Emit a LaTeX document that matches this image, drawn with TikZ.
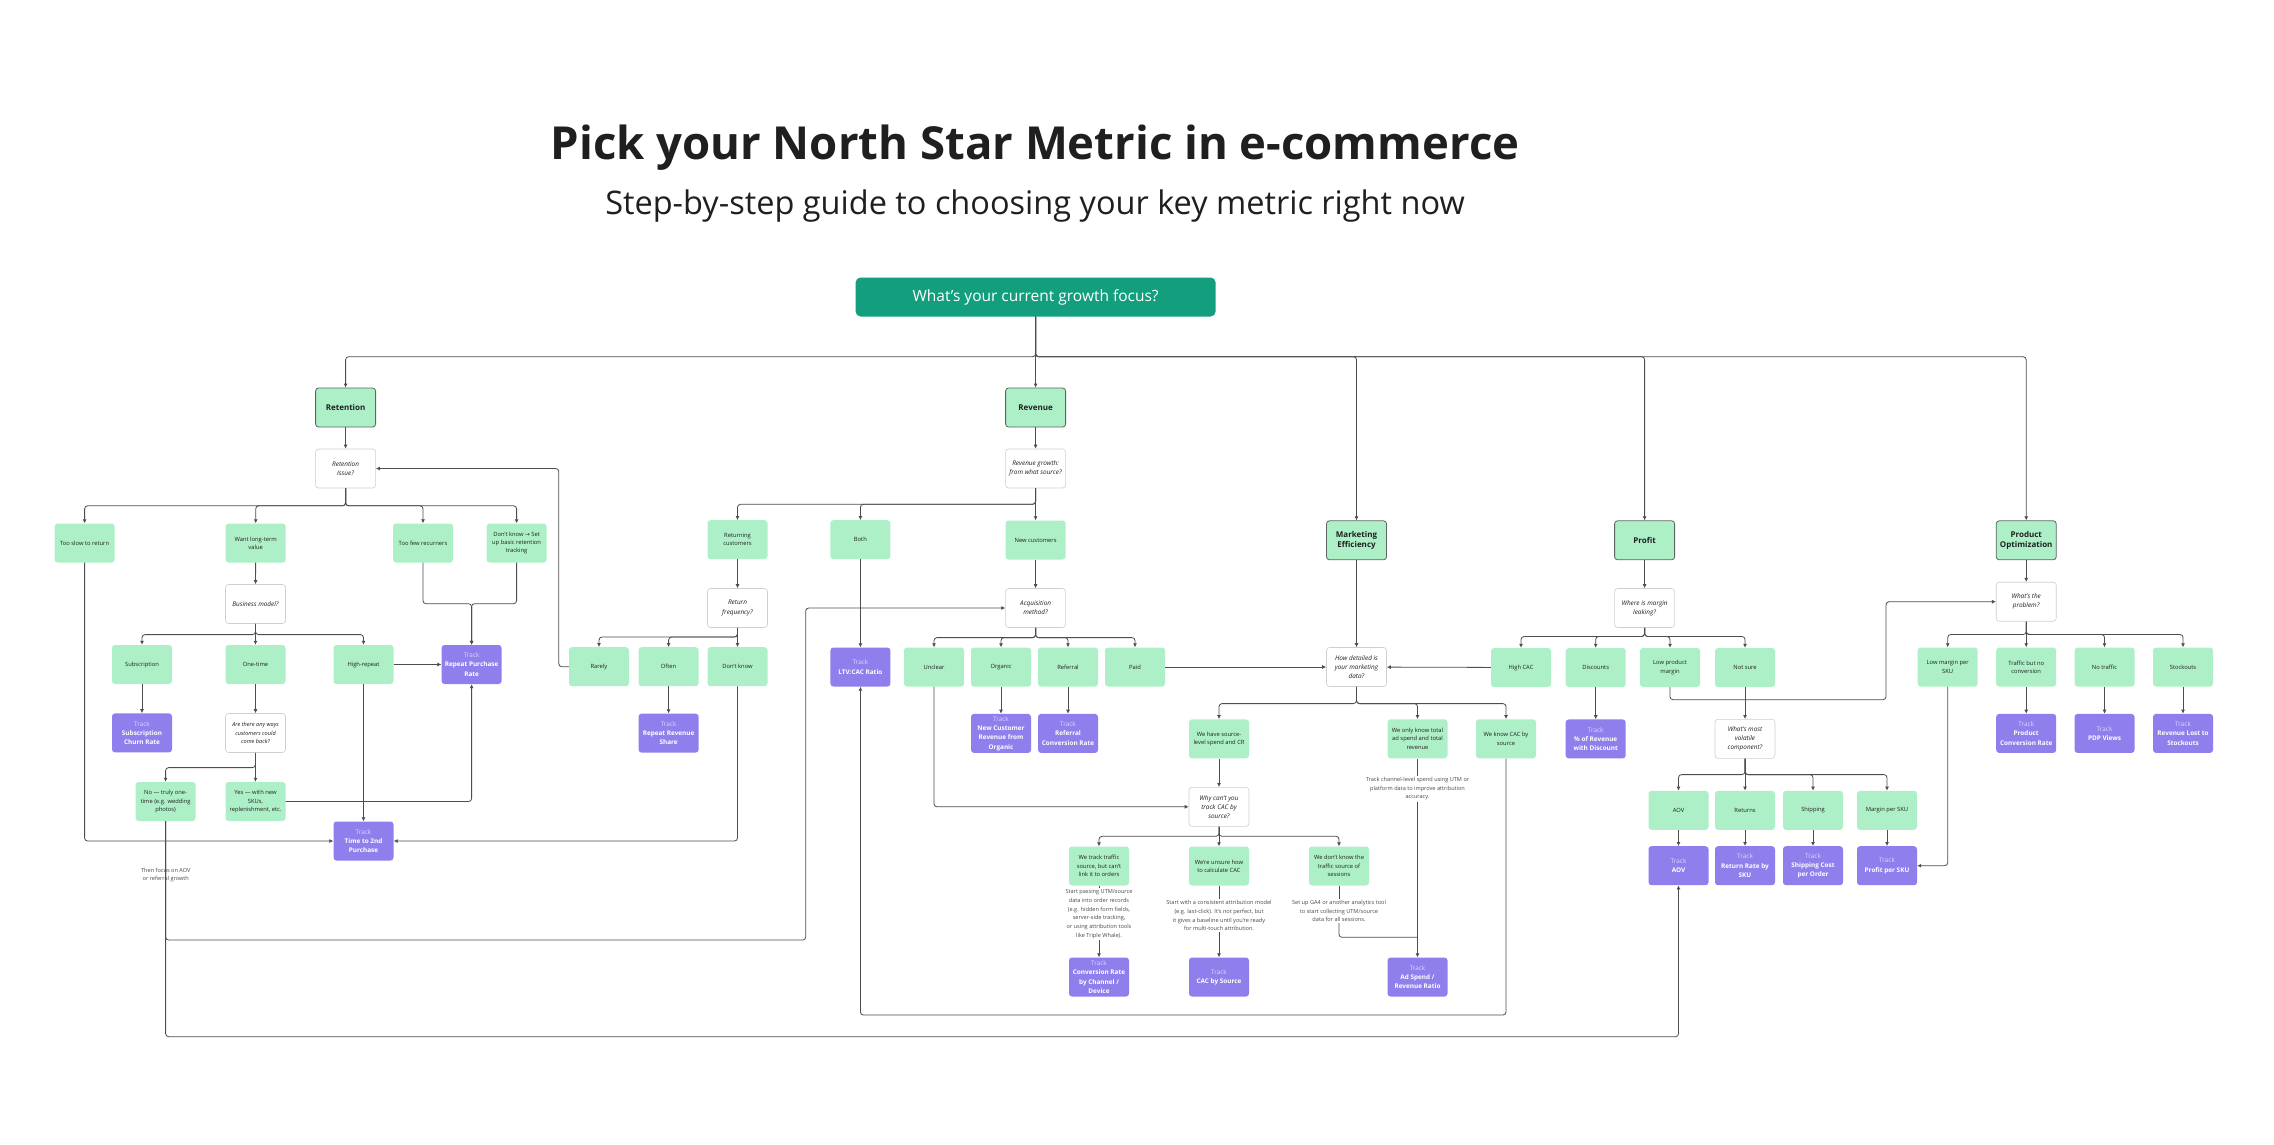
\documentclass[tikz,border=0pt]{standalone}
\usepackage{fontspec}
\setmainfont{Open Sans}
\newfontfamily\arrowfont{DejaVu Sans}
\usepackage{xcolor}
\usepackage{tikz}
\usetikzlibrary{arrows.meta,positioning,calc}
\definecolor{focusgreen}{HTML}{139E7D}
\definecolor{mint}{HTML}{ADF0C7}
\definecolor{lilac}{HTML}{8F7FEC}
\definecolor{topicline}{HTML}{5C6660}
\definecolor{askline}{HTML}{CFCFCF}
\definecolor{wire}{HTML}{4D4D4D}
\definecolor{ink}{HTML}{1F1F1F}
\definecolor{hintgray}{HTML}{4A4A4A}
\definecolor{trackfaint}{HTML}{DCD6FF}
\newcommand{\trk}{{\mdseries\color{trackfaint}Track}\\}

\begin{document}
\begin{tikzpicture}[x=1pt,y=-1pt,
    node distance=27pt,
    topic/.style={draw=topicline,fill=mint,line width=0.8pt,rounded corners=3pt,align=center,minimum width=60pt,minimum height=39pt,inner sep=1pt,text=ink,font=\bfseries\fontsize{8}{10.6}\selectfont},
    choice/.style={fill=mint,rounded corners=3pt,align=center,minimum width=60pt,minimum height=39pt,inner sep=1pt,text=ink,font=\fontsize{5.8}{8.3}\selectfont},
    ask/.style={draw=askline,fill=white,line width=0.6pt,rounded corners=3pt,align=center,minimum width=60pt,minimum height=39pt,inner sep=1pt,text=ink,font=\itshape\fontsize{6.4}{9.2}\selectfont},
    metric/.style={fill=lilac,rounded corners=3pt,align=center,minimum width=60pt,minimum height=39pt,inner sep=1pt,text=white,font=\bfseries\fontsize{6.4}{9.3}\selectfont},
    hint/.style={align=center,inner sep=1pt,text=hintgray,font=\fontsize{5.6}{8.8}\selectfont},
    arr/.style={-{Latex[length=4pt,width=4pt]},line width=0.8pt,draw=wire,rounded corners=3pt},
    link/.style={line width=0.8pt,draw=wire,rounded corners=3pt}
]
    \useasboundingbox[fill=white] (0,0) rectangle (2274,1144);

    % heading
    \node[anchor=base,text=ink,font=\bfseries\fontsize{45.5}{52}\selectfont] (title) at (1035,159.5) {Pick your North Star Metric in e-commerce};
    \node[anchor=base,text=ink,font=\fontsize{32.5}{38}\selectfont] (subtitle) at (1035,214) {Step-by-step guide to choosing your key metric right now};
    \node[fill=focusgreen,rounded corners=5pt,minimum width=360pt,minimum height=39pt,text=white,font=\fontsize{15.5}{18}\selectfont] (focus) at (1035.6,297) {What’s your current growth focus?};

    % growth areas
    \node[topic] (retention) at (345.6,407.5) {Retention};
    \node[topic] (revenue) at (1035.6,407.5) {Revenue};
    \node[topic] (mkt) at (1356.5,540.3) {Marketing\\Efficiency};
    \node[topic] (profit) at (1644.6,540.3) {Profit};
    \node[topic] (product) at (2026.2,540.3) {Product\\Optimization};

    % retention branch
    \node[ask] (retq) at (345.6,468.5) {Retention\\Issue?};
    \node[choice] (slow) at (84.6,543) {Too slow to return};
    \node[choice] (longterm) at (255.7,543) {Want long-term\\value};
    \node[choice] (fewrec) at (423,543) {Too few recurners};
    \node[choice] (dunno) at (516.6,543) {Don’t know {\arrowfont→} Set\\up basic retention\\tracking};
    \node[ask] (bizq) at (255.5,604) {Business model?};
    \node[choice] (subscr) at (142,664.5) {Subscription};
    \node[choice] (onetime) at (255.5,664.5) {One-time};
    \node[choice] (highrep) at (363.5,664.5) {High-repeat};
    \node[metric] (trkrepeat) at (471.6,664.5) {\trk Repeat Purchase\\Rate};
    \node[metric,below=29pt of subscr] (trkchurn) {\trk Subscription\\Churn Rate};
    \node[ask,font=\itshape\fontsize{5.6}{8.3}\selectfont] (comebackq) at (255.5,733) {Are there any ways\\customers could\\come back?};
    \node[choice] (nope) at (165.6,801.5) {No — truly one-\\time (e.g. wedding\\photos)};
    \node[choice] (yes) at (255.5,801.5) {Yes — with new\\SKUs,\\replenishment, etc.};
    \node[metric] (trksecond) at (363.5,841) {\trk Time to 2nd\\Purchase};
    \node[hint] (aovnote) at (165.8,875) {Then focus on AOV\\or referral growth};

    % revenue branch
    \node[ask] (revq) at (1035.6,468.5) {Revenue growth:\\from what source?};
    \node[choice] (returning) at (737.5,539.7) {Returning\\customers};
    \node[choice] (both) at (860.4,539.7) {Both};
    \node[choice] (newcust) at (1035.6,540) {New customers};
    \node[ask] (freqq) at (737.5,608) {Return\\frequency?};
    \node[choice] (rarely) at (599,666.7) {Rarely};
    \node[choice] (often) at (668.6,666.7) {Often};
    \node[choice] (dontknow) at (737.5,666.7) {Don’t know};
    \node[metric] (trkltv) at (860.4,667) {\trk LTV:CAC Ratio};
    \node[metric,below=of often] (trkrevshare) {\trk Repeat Revenue\\Share};
    \node[ask] (acqq) at (1035.6,608) {Acquisition\\method?};
    \node[choice] (unclear) at (934,667) {Unclear};
    \node[choice] (organic) at (1001,667) {Organic};
    \node[choice] (referral) at (1068,667) {Referral};
    \node[choice] (paid) at (1135,667) {Paid};
    \node[metric,below=of organic] (trkorganic) {\trk New Customer\\Revenue from\\Organic};
    \node[metric,below=of referral] (trkreferral) {\trk Referral\\Conversion Rate};

    % marketing efficiency branch
    \node[ask] (detailq) at (1356.5,667) {How detailed is\\your marketing\\data?};
    \node[choice] (srcspend) at (1219,738.8) {We have source-\\level spend and CR};
    \node[choice] (totalonly) at (1417.5,738.8) {We only know total\\ad spend and total\\revenue};
    \node[choice] (cacknown) at (1506,738.8) {We know CAC by\\source};
    \node[hint,fill=white] (totalnote) at (1417.5,788.7) {Track channel-level spend using UTM or\\platform data to improve attribution\\accuracy.};
    \node[ask] (whyq) at (1219,806.8) {Why can’t you\\track CAC by\\source?};
    \node[choice] (cantlink) at (1099,866) {We track traffic\\source, but can’t\\link it to orders};
    \node[choice] (unsure) at (1219,866) {We’re unsure how\\to calculate CAC};
    \node[choice] (nosource) at (1339,866) {We don’t know the\\traffic source of\\sessions};
    \node[hint] (linknote) at (1099,914.2) {Start passing UTM/source\\data into order records\\(e.g. hidden form fields,\\server-side tracking,\\or using attribution tools\\like Triple Whale).};
    \node[hint] (unsurenote) at (1219,915.5) {Start with a consistent attribution model\\(e.g. last-click). It’s not perfect, but\\it gives a baseline until you’re ready\\for multi-touch attribution.};
    \node[hint] (nosourcenote) at (1339,911) {Set up GA4 or another analytics tool\\to start collecting UTM/source\\data for all sessions.};
    \node[metric] (trkconv) at (1099,977) {\trk Conversion Rate\\by Channel /\\Device};
    \node[metric] (trkcac) at (1219,977) {\trk CAC by Source};
    \node[metric] (trkadspend) at (1417.5,977) {\trk Ad Spend /\\Revenue Ratio};

    % profit branch
    \node[ask] (marginq) at (1644.6,608) {Where is margin\\leaking?};
    \node[choice] (highcac) at (1521,667.5) {High CAC};
    \node[choice] (discounts) at (1595.7,667.5) {Discounts};
    \node[choice] (lowmargin) at (1670,667.5) {Low product\\margin};
    \node[choice] (notsure) at (1745,667.5) {Not sure};
    \node[metric,below=32pt of discounts] (trkdiscount) {\trk \% of Revenue\\with Discount};
    \node[ask] (volatileq) at (1745,738.8) {What’s most\\volatile\\component?};
    \node[choice] (aov) at (1678.5,810.3) {AOV};
    \node[choice] (returns) at (1745,810.3) {Returns};
    \node[choice] (shipping) at (1813,810.3) {Shipping};
    \node[choice] (marginsku) at (1887,810.3) {Margin per SKU};
    \node[metric,below=16pt of aov] (trkaov) {\trk AOV};
    \node[metric,below=16pt of returns] (trkreturn) {\trk Return Rate by\\SKU};
    \node[metric,below=16pt of shipping] (trkship) {\trk Shipping Cost\\per Order};
    \node[metric,below=16pt of marginsku] (trkprofit) {\trk Profit per SKU};

    % product optimization branch
    \node[ask] (problemq) at (2026.2,601.7) {What’s the\\problem?};
    \node[choice] (lowsku) at (1947.7,667) {Low margin per\\SKU};
    \node[choice] (noconv) at (2026.2,667) {Traffic but no\\conversion};
    \node[choice] (notraffic) at (2104.5,667) {No traffic};
    \node[choice] (stockouts) at (2183,667) {Stockouts};
    \node[metric,below=of noconv] (trkpdpconv) {\trk Product\\Conversion Rate};
    \node[metric,below=of notraffic] (trkpdp) {\trk PDP Views};
    \node[metric,below=of stockouts] (trkstock) {\trk Revenue Lost to\\Stockouts};

    \coordinate (lowlane) at (0,1036.7);
    \coordinate (ltvlane) at (0,1015);

    % top split
    \draw[arr] (focus.south) -- ++(0,40) -| (retention.north);
    \draw[arr] (focus.south) -- (revenue.north);
    \draw[arr] (focus.south) -- ++(0,40) -| (mkt.north);
    \draw[arr] (focus.south) -- ++(0,40) -| (profit.north);
    \draw[arr] (focus.south) -- ++(0,40) -| (product.north);

    % retention
    \draw[arr] (retention) -- (retq);
    \draw[arr] (retq.south) -- ++(0,17.5) -| (slow.north);
    \draw[arr] (retq.south) -- ++(0,17.5) -| (longterm.north);
    \draw[arr] (retq.south) -- ++(0,17.5) -| (fewrec.north);
    \draw[arr] (retq.south) -- ++(0,17.5) -| (dunno.north);
    \draw[arr] (longterm) -- (bizq);
    \draw[arr] (bizq.south) -- ++(0,10.8) -| (subscr.north);
    \draw[arr] (bizq.south) -- (onetime.north);
    \draw[arr] (bizq.south) -- ++(0,10.8) -| (highrep.north);
    \draw[arr] (subscr) -- (trkchurn);
    \draw[arr] (onetime) -- (comebackq);
    \draw[arr] (highrep) -- (trkrepeat);
    \draw[arr] (highrep) -- (trksecond);
    \draw[arr] (fewrec.south) -- ++(0,41) -| (trkrepeat.north);
    \draw[arr] (dunno.south) -- ++(0,41) -| (trkrepeat.north);
    \draw[arr] (comebackq.south) -- ++(0,14.8) -| (nope.north);
    \draw[arr] (comebackq) -- (yes);
    \draw[arr] (yes.east) -| (trkrepeat.south);
    \draw[arr] (slow.south) |- (trksecond.west);
    \draw[arr] (nope.south) |- (805.7,940) |- (acqq.west);
    \draw[arr] (nope.south) |- (trkaov.south |- lowlane) -- (trkaov.south);

    % revenue
    \draw[arr] (revenue) -- (revq);
    \draw[arr] (revq.south) -- ++(0,16) -| (returning.north);
    \draw[arr] (revq.south) -- ++(0,16) -| (both.north);
    \draw[arr] (revq.south) -- (newcust.north);
    \draw[arr] (returning) -- (freqq);
    \draw[arr] (freqq.south) -- ++(0,9.2) -| (rarely.north);
    \draw[arr] (freqq.south) -- ++(0,9.2) -| (often.north);
    \draw[arr] (freqq.south) -- (dontknow.north);
    \draw[arr] (rarely.west) -- ++(-10,0) |- (retq.east);
    \draw[arr] (often) -- (trkrevshare);
    \draw[arr] (dontknow.south) |- (trksecond.east);
    \draw[arr] (both) -- (trkltv);
    \draw[arr] (newcust) -- (acqq);
    \draw[arr] (acqq.south) -- ++(0,9.8) -| (unclear.north);
    \draw[arr] (acqq.south) -- ++(0,9.8) -| (organic.north);
    \draw[arr] (acqq.south) -- ++(0,9.8) -| (referral.north);
    \draw[arr] (acqq.south) -- ++(0,9.8) -| (paid.north);
    \draw[arr] (organic) -- (trkorganic);
    \draw[arr] (referral) -- (trkreferral);
    \draw[arr] (unclear.south) |- (whyq.west);
    \draw[arr] (paid) -- (detailq);

    % marketing efficiency
    \draw[arr] (mkt) -- (detailq);
    \draw[arr] (detailq.south) -- ++(0,16.8) -| (srcspend.north);
    \draw[arr] (detailq.south) -- ++(0,16.8) -| (totalonly.north);
    \draw[arr] (detailq.south) -- ++(0,16.8) -| (cacknown.north);
    \draw[arr] (srcspend) -- (whyq);
    \draw[arr] (cacknown.south) |- (trkltv.south |- ltvlane) -- (trkltv.south);
    \draw[arr] (whyq.south) -- ++(0,9.7) -| (cantlink.north);
    \draw[arr] (whyq.south) -- (unsure.north);
    \draw[arr] (whyq.south) -- ++(0,9.7) -| (nosource.north);
    \draw[link] (cantlink) -- (linknote);
    \draw[arr] (linknote) -- (trkconv);
    \draw[link] (unsure) -- (unsurenote);
    \draw[arr] (unsurenote) -- (trkcac);
    \draw[link] (nosource) -- (nosourcenote);
    \draw[link] (nosourcenote.south) |- ($(trkadspend.north)+(0,-20)$);
    \draw[link] (totalonly) -- (totalnote);
    \draw[arr] (totalnote) -- (trkadspend);

    % profit
    \draw[arr] (profit) -- (marginq);
    \draw[arr] (marginq.south) -- ++(0,8.7) -| (highcac.north);
    \draw[arr] (marginq.south) -- ++(0,8.7) -| (discounts.north);
    \draw[arr] (marginq.south) -- ++(0,8.7) -| (lowmargin.north);
    \draw[arr] (marginq.south) -- ++(0,8.7) -| (notsure.north);
    \draw[arr] (highcac) -- (detailq);
    \draw[arr] (discounts) -- (trkdiscount);
    \draw[arr] (lowmargin.south) -- ++(0,12.5) -- ++(216,0) |- (problemq.west);
    \draw[arr] (notsure) -- (volatileq);
    \draw[arr] (volatileq.south) -- ++(0,16) -| (aov.north);
    \draw[arr] (volatileq.south) -- (returns.north);
    \draw[arr] (volatileq.south) -- ++(0,16) -| (shipping.north);
    \draw[arr] (volatileq.south) -- ++(0,16) -| (marginsku.north);
    \draw[arr] (aov) -- (trkaov);
    \draw[arr] (returns) -- (trkreturn);
    \draw[arr] (shipping) -- (trkship);
    \draw[arr] (marginsku) -- (trkprofit);

    % product optimization
    \draw[arr] (product) -- (problemq);
    \draw[arr] (problemq.south) -- ++(0,13) -| (lowsku.north);
    \draw[arr] (problemq.south) -- (noconv.north);
    \draw[arr] (problemq.south) -- ++(0,13) -| (notraffic.north);
    \draw[arr] (problemq.south) -- ++(0,13) -| (stockouts.north);
    \draw[arr] (lowsku.south) |- (trkprofit.east);
    \draw[arr] (noconv) -- (trkpdpconv);
    \draw[arr] (notraffic) -- (trkpdp);
    \draw[arr] (stockouts) -- (trkstock);
\end{tikzpicture}
\end{document}
